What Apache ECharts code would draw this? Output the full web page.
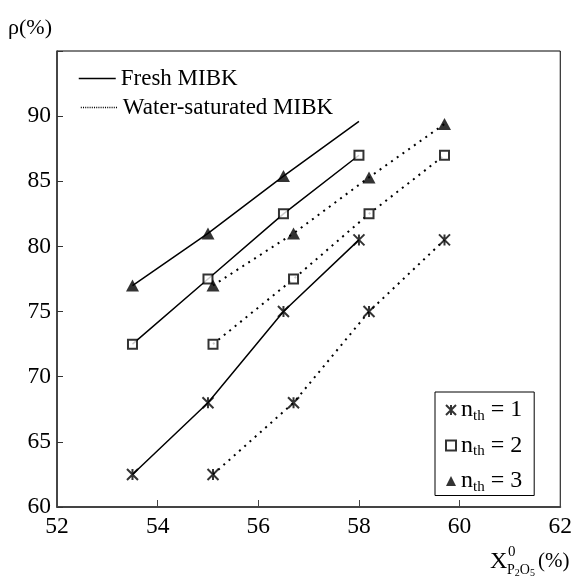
<!DOCTYPE html>
<html>
<head>
<meta charset="utf-8">
<script src="https://cdn.jsdelivr.net/npm/echarts@6/dist/echarts.min.js"></script>
<style>html,body{margin:0;padding:0;background:#fff}#c{width:575px;height:578px}</style>
</head>
<body>
<div id="c"></div>
<script>
// ---- data ----
const freshX = [53.5, 55, 56.5, 58];
const waterX = [55.1, 56.7, 58.2, 59.7];
const fresh1 = [62.5, 68, 75, 80.5];
const water1 = [62.5, 68, 75, 80.5];
const fresh2 = [72.5, 77.5, 82.5, 87];
const water2 = [72.5, 77.5, 82.5, 87];
const fresh3 = [77, 81, 85.4];
const fresh3LineEnd = [58, 89.6];   // end of the fresh n=3 line (no marker)
const water3 = [77, 81, 85.3, 89.4];
const xTicks = [52, 54, 56, 58, 60, 62];
const yTicks = [60, 65, 70, 75, 80, 85, 90];
const lineNames = ['Fresh MIBK', 'Water-saturated MIBK'];
const nthNames = ['nth = 1', 'nth = 2', 'nth = 3'];

const pts = (xs, ys) => ys.map((y, i) => [xs[i], y]);

const SERIF = 'Liberation Serif';
const solid = {color: '#000', width: 1.5, type: 'solid'};
const dotted = {color: '#000', width: 2, type: [2, 5]};

function lineSeries(name, data, style) {
  return {type: 'line', name, data, symbol: 'none', lineStyle: style, itemStyle: {color: '#000'}, z: 2, silent: true, animation: false};
}
const asterisk = 'path://M0,0L10,10M10,0L0,10M5,0L5,10';

const series = [
  lineSeries(lineNames[0], pts(freshX, fresh1), solid),
  lineSeries(lineNames[0], pts(freshX, fresh2), solid),
  lineSeries(lineNames[0], pts(freshX, fresh3).concat([fresh3LineEnd]), solid),
  lineSeries(lineNames[1], pts(waterX, water1), dotted),
  lineSeries(lineNames[1], pts(waterX, water2), dotted),
  lineSeries(lineNames[1], pts(waterX, water3), dotted),
  {type: 'scatter', name: nthNames[0], data: pts(freshX, fresh1).concat(pts(waterX, water1)),
   symbol: asterisk, symbolSize: 11, itemStyle: {color: 'rgba(0,0,0,0)', borderColor: '#000', borderWidth: 2}, z: 5, animation: false},
  {type: 'scatter', name: nthNames[1], data: pts(freshX, fresh2).concat(pts(waterX, water2)),
   symbol: 'rect', symbolSize: 9, itemStyle: {color: '#fff', borderColor: '#000', borderWidth: 2}, z: 5, animation: false},
  {type: 'scatter', name: nthNames[2], data: pts(freshX, fresh3).concat(pts(waterX, water3)),
   symbol: 'triangle', symbolSize: [13, 12], itemStyle: {color: '#000'}, z: 5, animation: false}
];

const legendText = {fontFamily: SERIF, fontSize: 23, color: '#000'};
const chart = echarts.init(document.getElementById('c'));
chart.setOption({
  animation: false,
  backgroundColor: '#fff',
  grid: {left: 57, right: 14, top: 51, bottom: 71, show: true, borderColor: '#000', borderWidth: 1},
  xAxis: {
    type: 'value', min: xTicks[0], max: xTicks[xTicks.length - 1], interval: 2,
    axisLine: {show: true, lineStyle: {color: '#444', width: 2}},
    axisTick: {show: true, inside: true, length: 7, lineStyle: {color: '#444', width: 1}},
    axisLabel: {fontFamily: SERIF, fontSize: 23.5, color: '#000', margin: 8},
    splitLine: {show: false}
  },
  yAxis: {
    type: 'value', min: yTicks[0], max: 95, interval: 5,
    axisLine: {show: true, lineStyle: {color: '#333', width: 1.5}},
    axisTick: {show: true, inside: true, length: 6, lineStyle: {color: '#333', width: 1}},
    axisLabel: {fontFamily: SERIF, fontSize: 23.5, color: '#000', margin: 6,
      formatter: v => (yTicks.indexOf(v) >= 0 ? String(v) : '')},
    splitLine: {show: false}
  },
  legend: [
    {data: [lineNames[0]], left: 78, top: 67, itemWidth: 37, itemHeight: 14, textStyle: legendText, padding: 0,
     itemStyle: {opacity: 0}, lineStyle: {color: '#000', width: 1.5, type: 'solid'}},
    {data: [lineNames[1]], left: 80, top: 96, itemWidth: 37, itemHeight: 14, textStyle: legendText, padding: 0,
     itemStyle: {opacity: 0}, lineStyle: {color: '#000', width: 1.6, type: [1, 1.2]}},
    {data: nthNames, orient: 'vertical', left: 435, top: 392, itemWidth: 10, itemHeight: 10, itemGap: 10,
     padding: [6, 12, 1, 10], borderColor: '#000', borderWidth: 1, backgroundColor: '#fff',
     formatter: name => '{a|n}{b|th}{a| = ' + name.slice(-1) + '}',
     textStyle: {fontFamily: SERIF, color: '#000',
       rich: {a: {fontFamily: SERIF, fontSize: 24, lineHeight: 27, color: '#000', verticalAlign: 'middle'},
              b: {fontFamily: SERIF, fontSize: 15, lineHeight: 12, color: '#000', verticalAlign: 'bottom'}}}}
  ],
  graphic: [
    {type: 'text', left: 8, top: 17, style: {text: 'ρ(%)', font: '22px "Liberation Serif"', fill: '#000'}},
    {type: 'text', left: 490, top: 550, style: {text: 'X', font: '24px "Liberation Serif"', fill: '#000'}},
    {type: 'text', left: 508, top: 545, style: {text: '0', font: '15px "Liberation Serif"', fill: '#000'}},
    {type: 'text', left: 507, top: 563, style: {text: '{p|P}{s|2}{p|O}{s|5}', font: '14px "Liberation Serif"', fill: '#000',
      rich: {p: {fontFamily: SERIF, fontSize: 14, lineHeight: 16, verticalAlign: 'middle'},
             s: {fontFamily: SERIF, fontSize: 10, lineHeight: 9, verticalAlign: 'bottom'}}}},
    {type: 'text', left: 538, top: 551, style: {text: '(%)', font: '21px "Liberation Serif"', fill: '#000'}}
  ],
  series
});
</script>
</body>
</html>
